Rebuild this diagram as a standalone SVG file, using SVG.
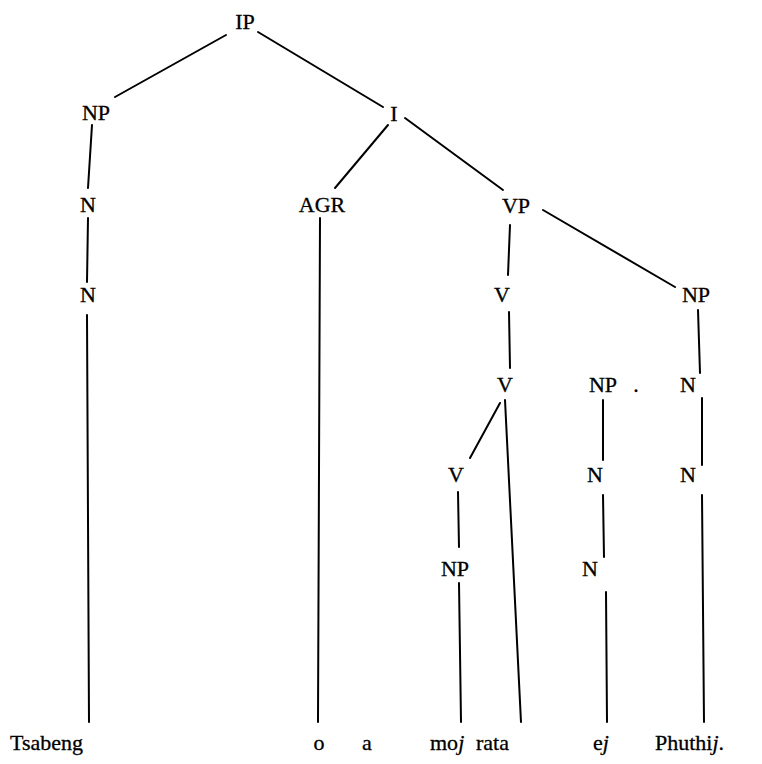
<svg xmlns="http://www.w3.org/2000/svg" width="762" height="764" viewBox="0 0 762 764">
<style>
text{font-family:"Liberation Serif","Times New Roman",serif;font-size:22px;fill:#000;stroke:#000;stroke-width:0.3;text-anchor:middle}
.w{text-anchor:start}
.it{font-style:italic}
#connectors line{stroke:#000;stroke-width:2;stroke-linecap:round}
</style>
<rect width="762" height="764" fill="#fff"/>
<g id="connectors">
<line x1="226" y1="35" x2="115" y2="97"/>
<line x1="258" y1="32" x2="383" y2="107"/>
<line x1="92" y1="125" x2="88" y2="188"/>
<line x1="88" y1="218" x2="87" y2="282"/>
<line x1="87" y1="315" x2="89" y2="722"/>
<line x1="388" y1="125" x2="335" y2="188"/>
<line x1="405" y1="118" x2="503" y2="190"/>
<line x1="320" y1="218" x2="318" y2="722"/>
<line x1="510" y1="225" x2="508" y2="275"/>
<line x1="543" y1="210" x2="675" y2="287"/>
<line x1="509" y1="312" x2="510" y2="368"/>
<line x1="698" y1="310" x2="700" y2="373"/>
<line x1="500" y1="403" x2="470" y2="458"/>
<line x1="505" y1="400" x2="521" y2="722"/>
<line x1="603" y1="400" x2="603" y2="460"/>
<line x1="603" y1="495" x2="604" y2="557"/>
<line x1="606" y1="592" x2="607" y2="722"/>
<line x1="702" y1="398" x2="702" y2="465"/>
<line x1="702" y1="495" x2="704" y2="722"/>
<line x1="458" y1="492" x2="459" y2="547"/>
<line x1="459" y1="583" x2="461" y2="722"/>
</g>
<g id="ip"><text x="245" y="29">IP</text></g>
<g id="np1"><text x="96" y="120">NP</text></g>
<g id="i"><text x="394" y="121">I</text></g>
<g id="n1"><text x="88" y="212">N</text></g>
<g id="agr"><text x="322" y="212">AGR</text></g>
<g id="vp"><text x="516" y="213">VP</text></g>
<g id="n2"><text x="88" y="302">N</text></g>
<g id="v1"><text x="502" y="302">V</text></g>
<g id="np2"><text x="696" y="302">NP</text></g>
<g id="v2"><text x="505" y="392">V</text></g>
<g id="np3"><text x="603" y="392">NP</text><text x="636" y="392">.</text></g>
<g id="n3"><text x="688" y="392">N</text></g>
<g id="v3"><text x="456" y="482">V</text></g>
<g id="n4"><text x="595" y="482">N</text></g>
<g id="n5"><text x="688" y="482">N</text></g>
<g id="np4"><text x="455" y="576">NP</text></g>
<g id="n6"><text x="590" y="576">N</text></g>
<g id="words">
<text class="w" x="10" y="750">Tsabeng</text>
<text x="319" y="750">o</text>
<text x="367" y="750">a</text>
<text class="w" x="430" y="750">mo<tspan class="it">j</tspan></text>
<text class="w" x="476" y="750">rata</text>
<text class="w" x="593" y="750">e<tspan class="it">j</tspan></text>
<text class="w" x="655" y="750">Phuthi<tspan class="it">j</tspan>.</text>
</g>
</svg>
